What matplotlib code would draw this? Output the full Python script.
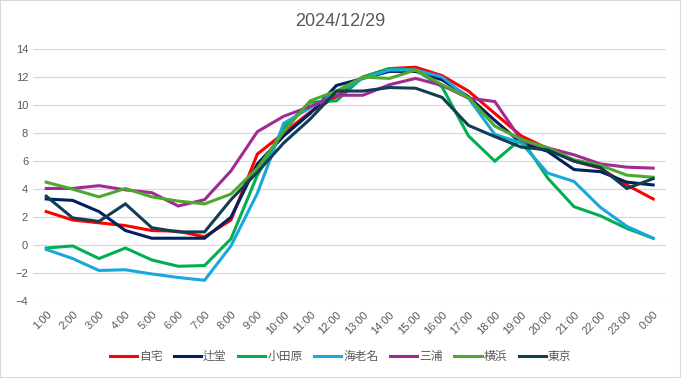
import matplotlib.pyplot as plt
from matplotlib.patches import Rectangle

plt.rcParams["font.family"] = ["Liberation Sans", "Noto Sans CJK JP"]

hours = [f"{h}:00" for h in range(1, 24)] + ["0:00"]

jitaku = [2.4, 1.8, 1.6, 1.4, 1.05, 1.0, 0.6, 1.8, 6.5, 8.0, 9.5, 10.6,
          12.0, 12.6, 12.7, 12.1, 11.0, 9.4, 7.8, 6.9, 6.0, 5.5, 4.3, 3.3]
tsujido = [3.3, 3.2, 2.4, 1.05, 0.5, 0.5, 0.5, 2.0, 5.8, 7.8, 9.4, 11.4,
           11.9, 12.4, 12.4, 11.8, 10.6, 8.9, 7.3, 6.7, 5.4, 5.25, 4.5, 4.3]
odawara = [-0.2, -0.05, -0.95, -0.2, -1.05, -1.5, -1.45, 0.45, 5.0, 8.4, 10.2, 10.3,
           12.0, 12.6, 12.5, 11.3, 7.8, 6.0, 7.6, 4.8, 2.75, 2.1, 1.2, 0.5]
ebina = [-0.3, -0.95, -1.8, -1.75, -2.05, -2.3, -2.5, -0.05, 3.7, 8.7, 9.8, 10.9,
         11.9, 12.5, 12.5, 12.0, 10.5, 7.9, 7.3, 5.15, 4.55, 2.7, 1.35, 0.5]
miura = [4.05, 4.05, 4.25, 3.95, 3.75, 2.8, 3.25, 5.3, 8.1, 9.2, 9.9, 10.7,
         10.7, 11.45, 11.9, 11.4, 10.5, 10.25, 7.5, 6.95, 6.45, 5.8, 5.57, 5.5]
yokohama = [4.5, 4.0, 3.45, 4.05, 3.45, 3.15, 2.95, 3.65, 5.5, 8.1, 10.3, 11.0,
            12.0, 11.9, 12.5, 11.45, 10.55, 8.5, 7.55, 6.95, 6.1, 5.7, 5.0, 4.85]
tokyo = [3.5, 1.95, 1.7, 2.95, 1.25, 0.95, 0.95, 3.25, 5.2, 7.3, 9.0, 11.0,
         11.0, 11.25, 11.2, 10.55, 8.55, 7.75, 7.0, 6.8, 6.0, 5.55, 4.05, 4.75]

names = ["自宅", "辻堂", "小田原", "海老名", "三浦", "横浜", "東京"]
series = [jitaku, tsujido, odawara, ebina, miura, yokohama, tokyo]
colors = ["#FF0000", "#002060", "#00B050", "#18A7DE", "#A02B93", "#4EA72E", "#113F52"]

fig = plt.figure(figsize=(6.81, 3.78), dpi=100)
ax = fig.add_axes([0.0485, 0.2029, 0.930, 0.6675])

x = range(len(hours))
for name, vals, c in zip(names, series, colors):
    ax.plot(x, vals, color=c, lw=2.2, label=name, solid_joinstyle="miter")

ax.set_xlim(-0.5, len(hours) - 0.5)
ax.set_ylim(-4, 14)
ax.set_yticks(range(-4, 15, 2))
ax.set_xticks(list(x))
ax.set_xticklabels(hours, rotation=45, ha="right", rotation_mode="anchor")
ax.tick_params(length=0, labelsize=8, colors="#595959")
ax.tick_params(axis="x", pad=6)
ax.grid(axis="y", color="#D9D9D9", lw=0.9)
ax.set_axisbelow(True)
for s in ax.spines.values():
    s.set_visible(False)

fig.text(0.5, 0.942, "2024/12/29", ha="center", va="center", fontsize=13, color="#595959")
fig.legend(loc="center", bbox_to_anchor=(0.5, 0.056), ncol=7, frameon=False,
           fontsize=8.5, handlelength=2.3, columnspacing=1.0, handletextpad=0.15,
           labelcolor="#595959")
fig.patches.append(Rectangle((0, 0), 1, 1, transform=fig.transFigure, fill=False,
                             edgecolor="#D9D9D9", lw=1.5))

fig.savefig("out.png", dpi=100)
